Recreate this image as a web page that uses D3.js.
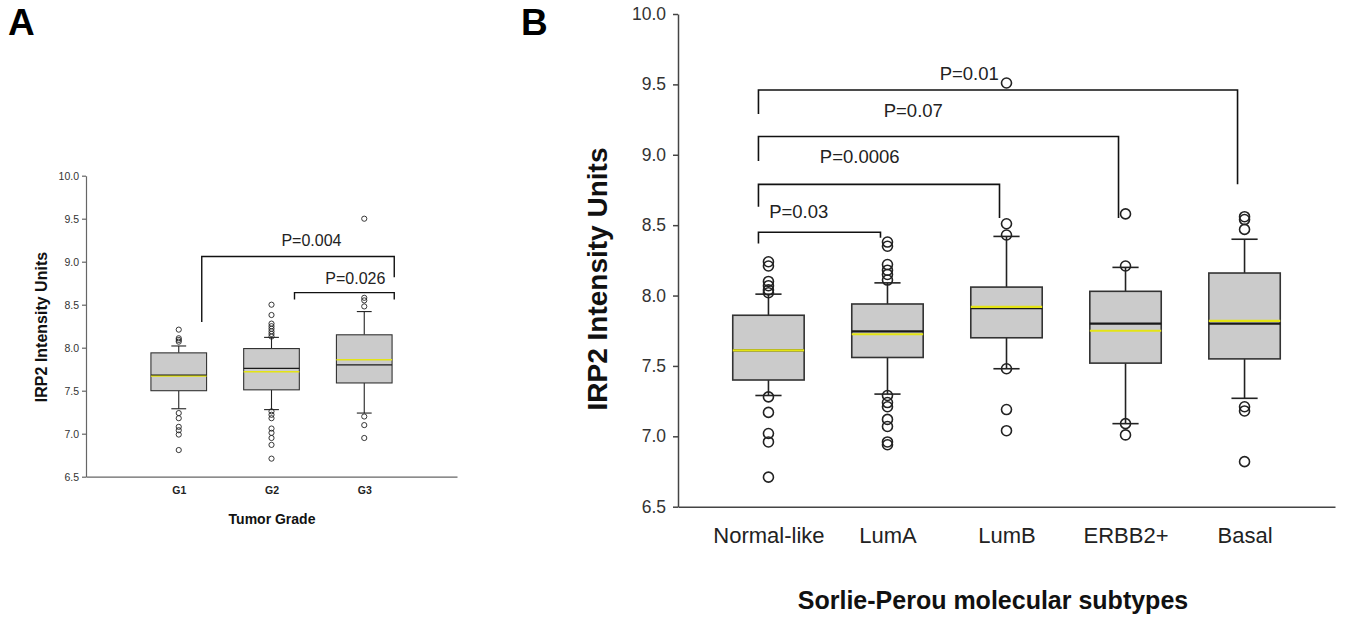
<!DOCTYPE html>
<html lang="en">
<head>
<meta charset="utf-8">
<title>IRP2 intensity box plots</title>
<script src="https://d3js.org/d3.v7.min.js"></script>
<style>
  body { margin: 0; background: #fff; }
  svg text { font-family: "Liberation Sans", Arial, Helvetica, sans-serif; }
</style>
</head>
<body>
<div id="chart"></div>
<script>

// ---- panel A: tumor grade ----
var gradeCats = ["G1", "G2", "G3"];
var gradeQ1 = [7.50, 7.51, 7.59];
var gradeMedian = [7.68, 7.76, 7.80];
var gradeMean = [7.67, 7.72, 7.86];
var gradeQ3 = [7.94, 7.99, 8.15];
var gradeLow = [7.29, 7.28, 7.24];
var gradeHigh = [8.02, 8.12, 8.42];
var gradeOutliers = [
  [8.21, 8.11, 8.09, 8.07, 7.24, 7.18, 7.08, 7.04, 6.99, 6.81],
  [8.50, 8.38, 8.28, 8.25, 8.22, 8.19, 8.16, 8.13, 7.26, 7.22, 7.18, 7.06, 7.01, 6.95, 6.87, 6.71],
  [9.50, 8.58, 8.55, 8.48, 7.20, 7.10, 6.95]
];
var gradeBrackets = [
  {from: "G1", to: "G3", top: 9.06, leftEnd: 8.30, rightEnd: 8.82, label: "P=0.004", labelAt: 0.57, labelY: 9.18},
  {from: "G2", to: "G3", top: 8.64, leftEnd: 8.56, rightEnd: 8.56, label: "P=0.026", labelAt: 0.61, labelY: 8.74}
];

// ---- panel B: Sorlie-Perou subtypes ----
var subCats = ["Normal-like", "LumA", "LumB", "ERBB2+", "Basal"];
var subQ1 = [7.40, 7.56, 7.70, 7.52, 7.55];
var subMedian = [7.61, 7.745, 7.91, 7.80, 7.80];
var subMean = [7.61, 7.725, 7.92, 7.75, 7.82];
var subQ3 = [7.86, 7.94, 8.06, 8.03, 8.16];
var subLow = [7.29, 7.30, 7.48, 7.09, 7.27];
var subHigh = [8.01, 8.09, 8.42, 8.20, 8.40];
var subOutliers = [
  [8.24, 8.21, 8.10, 8.07, 8.04, 8.02, 7.28, 7.17, 7.02, 6.96, 6.71],
  [8.38, 8.35, 8.22, 8.18, 8.15, 8.11, 7.29, 7.24, 7.21, 7.12, 7.07, 6.96, 6.94],
  [9.51, 8.51, 8.43, 7.48, 7.19, 7.04],
  [8.58, 8.21, 7.09, 7.01],
  [8.56, 8.54, 8.47, 7.21, 7.18, 6.82]
];
var subBrackets = [
  {from: "Normal-like", to: "LumA", top: 8.45, leftEnd: 8.37, rightEnd: 8.41, label: "P=0.03", labelAt: 0.33, labelY: 8.55},
  {from: "Normal-like", to: "LumB", top: 8.79, leftEnd: 8.63, rightEnd: 8.55, label: "P=0.0006", labelAt: 0.42, labelY: 8.94},
  {from: "Normal-like", to: "ERBB2+", top: 9.13, leftEnd: 8.955, rightEnd: 8.55, label: "P=0.07", labelAt: 0.43, labelY: 9.27},
  {from: "Normal-like", to: "Basal", top: 9.46, leftEnd: 9.29, rightEnd: 8.79, label: "P=0.01", labelAt: 0.44, labelY: 9.53}
];

var yTicks = [6.5, 7.0, 7.5, 8.0, 8.5, 9.0, 9.5, 10.0];

var svg = d3.select("#chart").append("svg")
  .attr("width", 1345)
  .attr("height", 620)
  .style("background", "#fff");

// draw one box-plot panel
function drawPanel(o) {
  var g = svg.append("g");
  var x = d3.scalePoint().domain(o.cats).range(o.xRange).padding(o.pad);
  var y = d3.scaleLinear().domain([6.5, 10]).range(o.yRange);
  var step = x.step();
  var boxW = step * 0.6, capW = step * o.cap;

  // y axis
  var ya = g.append("g")
    .attr("transform", "translate(" + o.xRange[0] + ",0)")
    .call(d3.axisLeft(y).tickValues(yTicks).tickFormat(d3.format(".1f"))
      .tickSizeInner(o.tick).tickSizeOuter(0).tickPadding(o.tickPad));
  ya.selectAll("path, line").attr("stroke", o.axisColor).attr("stroke-width", o.axisW);
  ya.selectAll("text").attr("font-size", o.tickFont).attr("fill", "#333");

  // x axis
  var xa = g.append("g")
    .attr("transform", "translate(0," + o.yRange[0] + ")")
    .call(d3.axisBottom(x).tickSize(0).tickPadding(o.catPad));
  xa.selectAll("path").attr("stroke", o.axisColor).attr("stroke-width", o.axisW);
  xa.selectAll("text").attr("font-size", o.catFont).attr("font-weight", o.catWeight).attr("fill", "#222");

  // boxes
  o.cats.forEach(function(c, i) {
    var cx = x(c);
    var b = g.append("g");
    b.append("line").attr("x1", cx).attr("x2", cx)
      .attr("y1", y(o.q3[i])).attr("y2", y(o.hi[i]))
      .attr("stroke", "#222").attr("stroke-width", o.lineW);
    b.append("line").attr("x1", cx).attr("x2", cx)
      .attr("y1", y(o.q1[i])).attr("y2", y(o.lo[i]))
      .attr("stroke", "#222").attr("stroke-width", o.lineW);
    [o.hi[i], o.lo[i]].forEach(function(v) {
      b.append("line").attr("x1", cx - capW / 2).attr("x2", cx + capW / 2)
        .attr("y1", y(v)).attr("y2", y(v))
        .attr("stroke", "#222").attr("stroke-width", o.lineW);
    });
    b.append("rect")
      .attr("x", cx - boxW / 2).attr("width", boxW)
      .attr("y", y(o.q3[i])).attr("height", y(o.q1[i]) - y(o.q3[i]))
      .attr("fill", "#cbcbcb").attr("stroke", "#333").attr("stroke-width", o.lineW);
    b.append("line").attr("x1", cx - boxW / 2).attr("x2", cx + boxW / 2)
      .attr("y1", y(o.median[i])).attr("y2", y(o.median[i]))
      .attr("stroke", "#1a1a1a").attr("stroke-width", o.medW);
    b.append("line").attr("x1", cx - boxW / 2).attr("x2", cx + boxW / 2)
      .attr("y1", y(o.mean[i])).attr("y2", y(o.mean[i]))
      .attr("stroke", "#e4e414").attr("stroke-width", o.medW);
    b.selectAll("circle").data(o.out[i]).enter().append("circle")
      .attr("cx", cx).attr("cy", function(d) { return y(d); })
      .attr("r", o.r)
      .attr("fill", "none").attr("stroke", "#222").attr("stroke-width", o.circW);
  });

  // significance brackets
  o.brackets.forEach(function(br) {
    var x1 = x(br.from) + o.dxL, x2 = x(br.to) + o.dxR;
    g.append("path")
      .attr("d", "M" + x1 + "," + y(br.leftEnd) + "V" + y(br.top) + "H" + x2 + "V" + y(br.rightEnd))
      .attr("fill", "none").attr("stroke", "#111").attr("stroke-width", o.brW);
    g.append("text")
      .attr("x", x1 + (x2 - x1) * br.labelAt)
      .attr("y", y(br.labelY))
      .attr("text-anchor", "middle")
      .attr("font-size", o.pFont)
      .attr("fill", "#222")
      .text(br.label);
  });

  // axis titles
  svg.append("text")
    .attr("transform", "translate(" + o.yTitlePos[0] + "," + o.yTitlePos[1] + ") rotate(-90)")
    .attr("text-anchor", "middle")
    .attr("font-size", o.yTitleFont).attr("font-weight", "bold").attr("fill", "#111")
    .text("IRP2 Intensity Units");
  svg.append("text")
    .attr("x", o.xTitlePos[0]).attr("y", o.xTitlePos[1])
    .attr("text-anchor", "middle")
    .attr("font-size", o.xTitleFont).attr("font-weight", "bold").attr("fill", "#111")
    .text(o.xTitle);
}

drawPanel({
  cats: gradeCats, q1: gradeQ1, median: gradeMedian, mean: gradeMean, q3: gradeQ3,
  lo: gradeLow, hi: gradeHigh, out: gradeOutliers, brackets: gradeBrackets,
  xRange: [86, 457], yRange: [476.7, 175.7], pad: 1,
  cap: 0.16, tick: 4, tickPad: 3, tickFont: "10.5px",
  catPad: 10, catFont: "10.5px", catWeight: "bold",
  axisColor: "#666", axisW: 1.2, lineW: 1.1, medW: 1.4, r: 2.6, circW: 0.9,
  brW: 1.4, pFont: "16px", dxL: 23, dxR: 30,
  yTitlePos: [46.5, 327], yTitleFont: "16px",
  xTitle: "Tumor Grade", xTitlePos: [272, 524], xTitleFont: "14px"
});

drawPanel({
  cats: subCats, q1: subQ1, median: subMedian, mean: subMean, q3: subQ3,
  lo: subLow, hi: subHigh, out: subOutliers, brackets: subBrackets,
  xRange: [678, 1335], yRange: [506.7, 14], pad: 0.76,
  cap: 0.22, tick: 5, tickPad: 7, tickFont: "17.5px",
  catPad: 21, catFont: "22px", catWeight: "normal",
  axisColor: "#444", axisW: 1.5, lineW: 1.6, medW: 2.2, r: 5, circW: 1.6,
  brW: 1.6, pFont: "18.5px", dxL: -10, dxR: -7,
  yTitlePos: [607, 279], yTitleFont: "28px",
  xTitle: "Sorlie-Perou molecular subtypes", xTitlePos: [993, 609], xTitleFont: "25px"
});

// panel letters
svg.append("text").attr("x", 8).attr("y", 35)
  .attr("font-size", "37px").attr("font-weight", "bold").text("A");
svg.append("text").attr("x", 521).attr("y", 35)
  .attr("font-size", "37px").attr("font-weight", "bold").text("B");

</script>
</body>
</html>
